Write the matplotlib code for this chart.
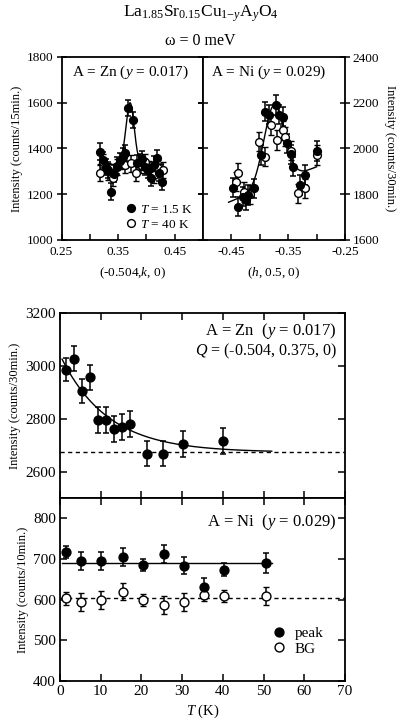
import matplotlib
matplotlib.use('Agg')
import matplotlib.pyplot as plt
import numpy as np
from matplotlib.lines import Line2D

plt.rcParams['font.family'] = ['Liberation Serif', 'DejaVu Serif']
plt.rcParams['mathtext.fontset'] = 'custom'
plt.rcParams['mathtext.rm'] = 'Liberation Serif'
plt.rcParams['mathtext.it'] = 'Liberation Serif:italic'
plt.rcParams['mathtext.bf'] = 'Liberation Serif:bold'
plt.rcParams['axes.linewidth'] = 1.3

# ---------------- data ----------------
# Top left: A = Zn, k-scan at (-0.504, k, 0)
zn_k_low = [0.318, 0.323, 0.328, 0.333, 0.338, 0.343, 0.348, 0.353, 0.358, 0.363,
            0.368, 0.377, 0.383, 0.388, 0.393, 0.398, 0.403, 0.408, 0.413, 0.418,
            0.423, 0.428]
zn_I_low = [1386, 1350, 1320, 1305, 1211, 1290, 1325, 1345, 1364, 1380,
            1576, 1525, 1335, 1342, 1355, 1320, 1305, 1270, 1330, 1357,
            1295, 1255]
zn_k_high = [0.318, 0.323, 0.333, 0.341, 0.348, 0.356, 0.363, 0.373, 0.382, 0.390,
             0.398, 0.405, 0.413, 0.420, 0.429]
zn_I_high = [1293, 1340, 1300, 1271, 1320, 1345, 1330, 1335, 1292, 1330,
             1340, 1310, 1285, 1315, 1306]
zn_scan_err = 36

# Top right: A = Ni, h-scan at (h, 0.5, 0)
ni_h_low = [-0.448, -0.4385, -0.430, -0.425, -0.421, -0.410, -0.398, -0.390, -0.383,
            -0.372, -0.3667, -0.360, -0.352, -0.345, -0.341, -0.329, -0.321, -0.299]
ni_I_low = [1829, 1746, 1789, 1775, 1797, 1826, 1972, 2161, 2147,
            2190, 2147, 2139, 2023, 1975, 1920, 1840, 1884, 1989]
ni_h_high = [-0.4425, -0.4385, -0.428, -0.418, -0.401, -0.390, -0.381, -0.3695,
             -0.360, -0.355, -0.345, -0.332, -0.321, -0.299]
ni_I_high = [1855, 1894, 1810, 1800, 2030, 1964, 2103, 2037,
             2080, 2052, 1990, 1804, 1826, 1972]
ni_scan_err = 42

# Fit parameters (Gaussian on background)
zn_fit = dict(bg=1330, amp=270, cen=0.3711, sig=0.0073, lo=0.315, hi=0.430)
ni_fit = dict(bg=1845, slope=1000, amp=345, cen=-0.375, sig=0.018, lo=-0.455, hi=-0.300)

# Bottom upper: Zn peak intensity vs T
zn_T = [1.5, 3.5, 5.3, 7.4, 9.4, 11.3, 13.3, 15.2, 17.2, 21.3, 25.4, 30.3, 40.0]
zn_peak = [2986, 3027, 2905, 2956, 2796, 2796, 2761, 2769, 2780, 2668, 2668, 2704, 2715]
zn_peak_err = [45, 48, 45, 48, 50, 50, 50, 50, 50, 48, 48, 48, 48]
zn_T_fit = dict(base=2673, amp=368, t0=11.6, lo=0.5, hi=52)

# Bottom lower: Ni peak and BG vs T
ni_T = [1.5, 5.2, 10.1, 15.4, 20.5, 25.6, 30.5, 35.3, 40.4, 50.5]
ni_peak = [717, 694, 694, 704, 686, 713, 684, 632, 674, 690]
ni_peak_err = [15, 22, 22, 22, 15, 22, 22, 22, 15, 25]
ni_bg = [603, 595, 600, 620, 600, 587, 595, 612, 610, 610]
ni_bg_err = [15, 22, 22, 22, 15, 22, 22, 15, 15, 22]
ni_peak_level = 690
ni_bg_level = 603

# ---------------- figure ----------------
fig = plt.figure(figsize=(3.97, 7.22), dpi=100)
W, H = 397.0, 722.0

def rect(x0, x1, ytop, ybot):
    return [x0 / W, 1 - ybot / H, (x1 - x0) / W, (ybot - ytop) / H]

axL = fig.add_axes(rect(61.5, 203, 57, 240))
axR = fig.add_axes(rect(203, 345, 57, 240))
axU = fig.add_axes(rect(60, 345, 313, 498))
axD = fig.add_axes(rect(60, 345, 498, 681))

ms_top = 5.6
ms_bot = 6.4
eb_kw = dict(elinewidth=1.1, capsize=2.4, capthick=1.1, color='black', ls='none')

# --- top left ---
axL.errorbar(zn_k_high, zn_I_high, yerr=zn_scan_err, marker='o', ms=ms_top,
             mfc='white', mec='black', mew=1.0, **eb_kw)
axL.errorbar(zn_k_low, zn_I_low, yerr=zn_scan_err, marker='o', ms=ms_top,
             mfc='black', mec='black', **eb_kw)
kk = np.linspace(zn_fit['lo'], zn_fit['hi'], 400)
axL.plot(kk, zn_fit['bg'] + zn_fit['amp'] * np.exp(-(kk - zn_fit['cen'])**2 / (2 * zn_fit['sig']**2)),
         color='black', lw=1.0)
axL.set_xlim(0.25, 0.50)
axL.set_ylim(1000, 1800)
axL.set_xticks([0.25, 0.30, 0.35, 0.40, 0.45])
axL.set_xticklabels(['0.25', '', '0.35', '', '0.45'])
axL.set_yticks([1000, 1200, 1400, 1600, 1800])
axL.tick_params(axis='x', direction='in', length=4, labelsize=9.5, pad=4, width=1.1)
axL.tick_params(axis='y', direction='inout', length=7, labelsize=9.5, right=True, width=1.1, pad=2)
axL.set_xlabel('(-0.504,$k$, 0)', fontsize=9.5, labelpad=6)
axL.set_ylabel('Intensity (counts/15min.)', fontsize=9, labelpad=3)
axL.text(0.485, 0.918, 'A = Zn ($y$ = 0.017)', transform=axL.transAxes,
         ha='center', va='center', fontsize=11)
h1 = Line2D([], [], marker='o', ls='none', ms=ms_top, mfc='black', mec='black')
h2 = Line2D([], [], marker='o', ls='none', ms=ms_top, mfc='white', mec='black', mew=1.0)
axL.legend([h1, h2], ['$T$ = 1.5 K', '$T$ = 40 K'], loc='lower left',
           bbox_to_anchor=(0.39, 0.0), frameon=False, fontsize=9.5,
           handlelength=0.8, handletextpad=0.3, labelspacing=0.2, borderpad=0.2)

# --- top right ---
axR.errorbar(ni_h_high, ni_I_high, yerr=ni_scan_err, marker='o', ms=ms_top,
             mfc='white', mec='black', mew=1.0, **eb_kw)
axR.errorbar(ni_h_low, ni_I_low, yerr=ni_scan_err, marker='o', ms=ms_top,
             mfc='black', mec='black', **eb_kw)
hh = np.linspace(ni_fit['lo'], ni_fit['hi'], 400)
axR.plot(hh, ni_fit['bg'] + ni_fit['slope'] * (hh - ni_fit['cen'])
         + ni_fit['amp'] * np.exp(-(hh - ni_fit['cen'])**2 / (2 * ni_fit['sig']**2)),
         color='black', lw=1.0)
axR.set_xlim(-0.50, -0.25)
axR.set_ylim(1600, 2400)
axR.set_xticks([-0.45, -0.40, -0.35, -0.30, -0.25])
axR.set_xticklabels(['-0.45', '', '-0.35', '', '-0.25'])
axR.set_yticks([1600, 1800, 2000, 2200, 2400])
axR.yaxis.tick_right()
axR.yaxis.set_label_position('right')
axR.tick_params(axis='x', direction='in', length=4, labelsize=9.5, pad=4, width=1.1)
axR.tick_params(axis='y', direction='inout', length=7, labelsize=9.5, left=True, width=1.1, pad=2)
axR.set_xlabel('($h$, 0.5, 0)', fontsize=9.5, labelpad=6)
axR.set_ylabel('Intensity (counts/30min.)', fontsize=9, rotation=270, labelpad=12)
axR.text(0.465, 0.918, 'A = Ni ($y$ = 0.029)', transform=axR.transAxes,
         ha='center', va='center', fontsize=11)

fig.text(0.505, 1 - 14 / H, 'La$_{1.85}$Sr$_{0.15}$Cu$_{1\\mathrm{-}y}$A$_{y}$O$_{4}$',
         ha='center', va='center', fontsize=12.5)
fig.text(0.505, 1 - 41 / H, 'ω = 0 meV', ha='center', va='center', fontsize=11.5)

# --- bottom upper ---
axU.errorbar(zn_T, zn_peak, yerr=zn_peak_err, marker='o', ms=ms_bot,
             mfc='black', mec='black', **eb_kw)
tt = np.linspace(zn_T_fit['lo'], zn_T_fit['hi'], 300)
axU.plot(tt, zn_T_fit['base'] + zn_T_fit['amp'] * np.exp(-tt / zn_T_fit['t0']),
         color='black', lw=1.0)
axU.axhline(zn_T_fit['base'], color='black', lw=1.0, ls=(0, (3, 2.5)))
axU.set_xlim(0, 70)
axU.set_ylim(2500, 3200)
axU.set_xticks(range(0, 71, 10))
axU.set_yticks([2600, 2800, 3000, 3200])
axU.tick_params(direction='in', top=True, right=True, length=5, labelsize=11, width=1.1, pad=3)
axU.tick_params(axis='x', labelbottom=False)
axU.set_ylabel('Intensity (counts/30min.)', fontsize=9, labelpad=3)
axU.text(0.97, 0.905, 'A = Zn  ($y$ = 0.017)', transform=axU.transAxes,
         ha='right', va='center', fontsize=12)
axU.text(0.97, 0.79, '$Q$ = (-0.504, 0.375, 0)', transform=axU.transAxes,
         ha='right', va='center', fontsize=11.5)

# --- bottom lower ---
axD.errorbar(ni_T, ni_bg, yerr=ni_bg_err, marker='o', ms=ms_bot,
             mfc='white', mec='black', mew=1.0, **eb_kw)
axD.errorbar(ni_T, ni_peak, yerr=ni_peak_err, marker='o', ms=ms_bot,
             mfc='black', mec='black', **eb_kw)
axD.plot([0.5, 52], [ni_peak_level, ni_peak_level], color='black', lw=1.0)
axD.axhline(ni_bg_level, color='black', lw=1.0, ls=(0, (3, 2.5)))
axD.set_xlim(0, 70)
axD.set_ylim(400, 850)
axD.set_xticks(range(0, 71, 10))
axD.set_yticks([400, 500, 600, 700, 800])
axD.tick_params(direction='in', top=True, right=True, length=5, labelsize=11, width=1.1, pad=3)
axD.set_ylabel('Intensity (counts/10min.)', fontsize=9, labelpad=3)
axD.set_xlabel('$T$ (K)', fontsize=10.5, labelpad=3)
axD.text(0.97, 0.87, 'A = Ni  ($y$ = 0.029)', transform=axD.transAxes,
         ha='right', va='center', fontsize=12)
h3 = Line2D([], [], marker='o', ls='none', ms=ms_bot, mfc='black', mec='black')
h4 = Line2D([], [], marker='o', ls='none', ms=ms_bot, mfc='white', mec='black', mew=1.0)
axD.legend([h3, h4], ['peak', 'BG'], loc='lower left', bbox_to_anchor=(0.71, 0.08),
           frameon=False, fontsize=11, handlelength=0.8, handletextpad=0.6,
           labelspacing=0.1, borderpad=0.2)

fig.savefig('out.png', dpi=100)
